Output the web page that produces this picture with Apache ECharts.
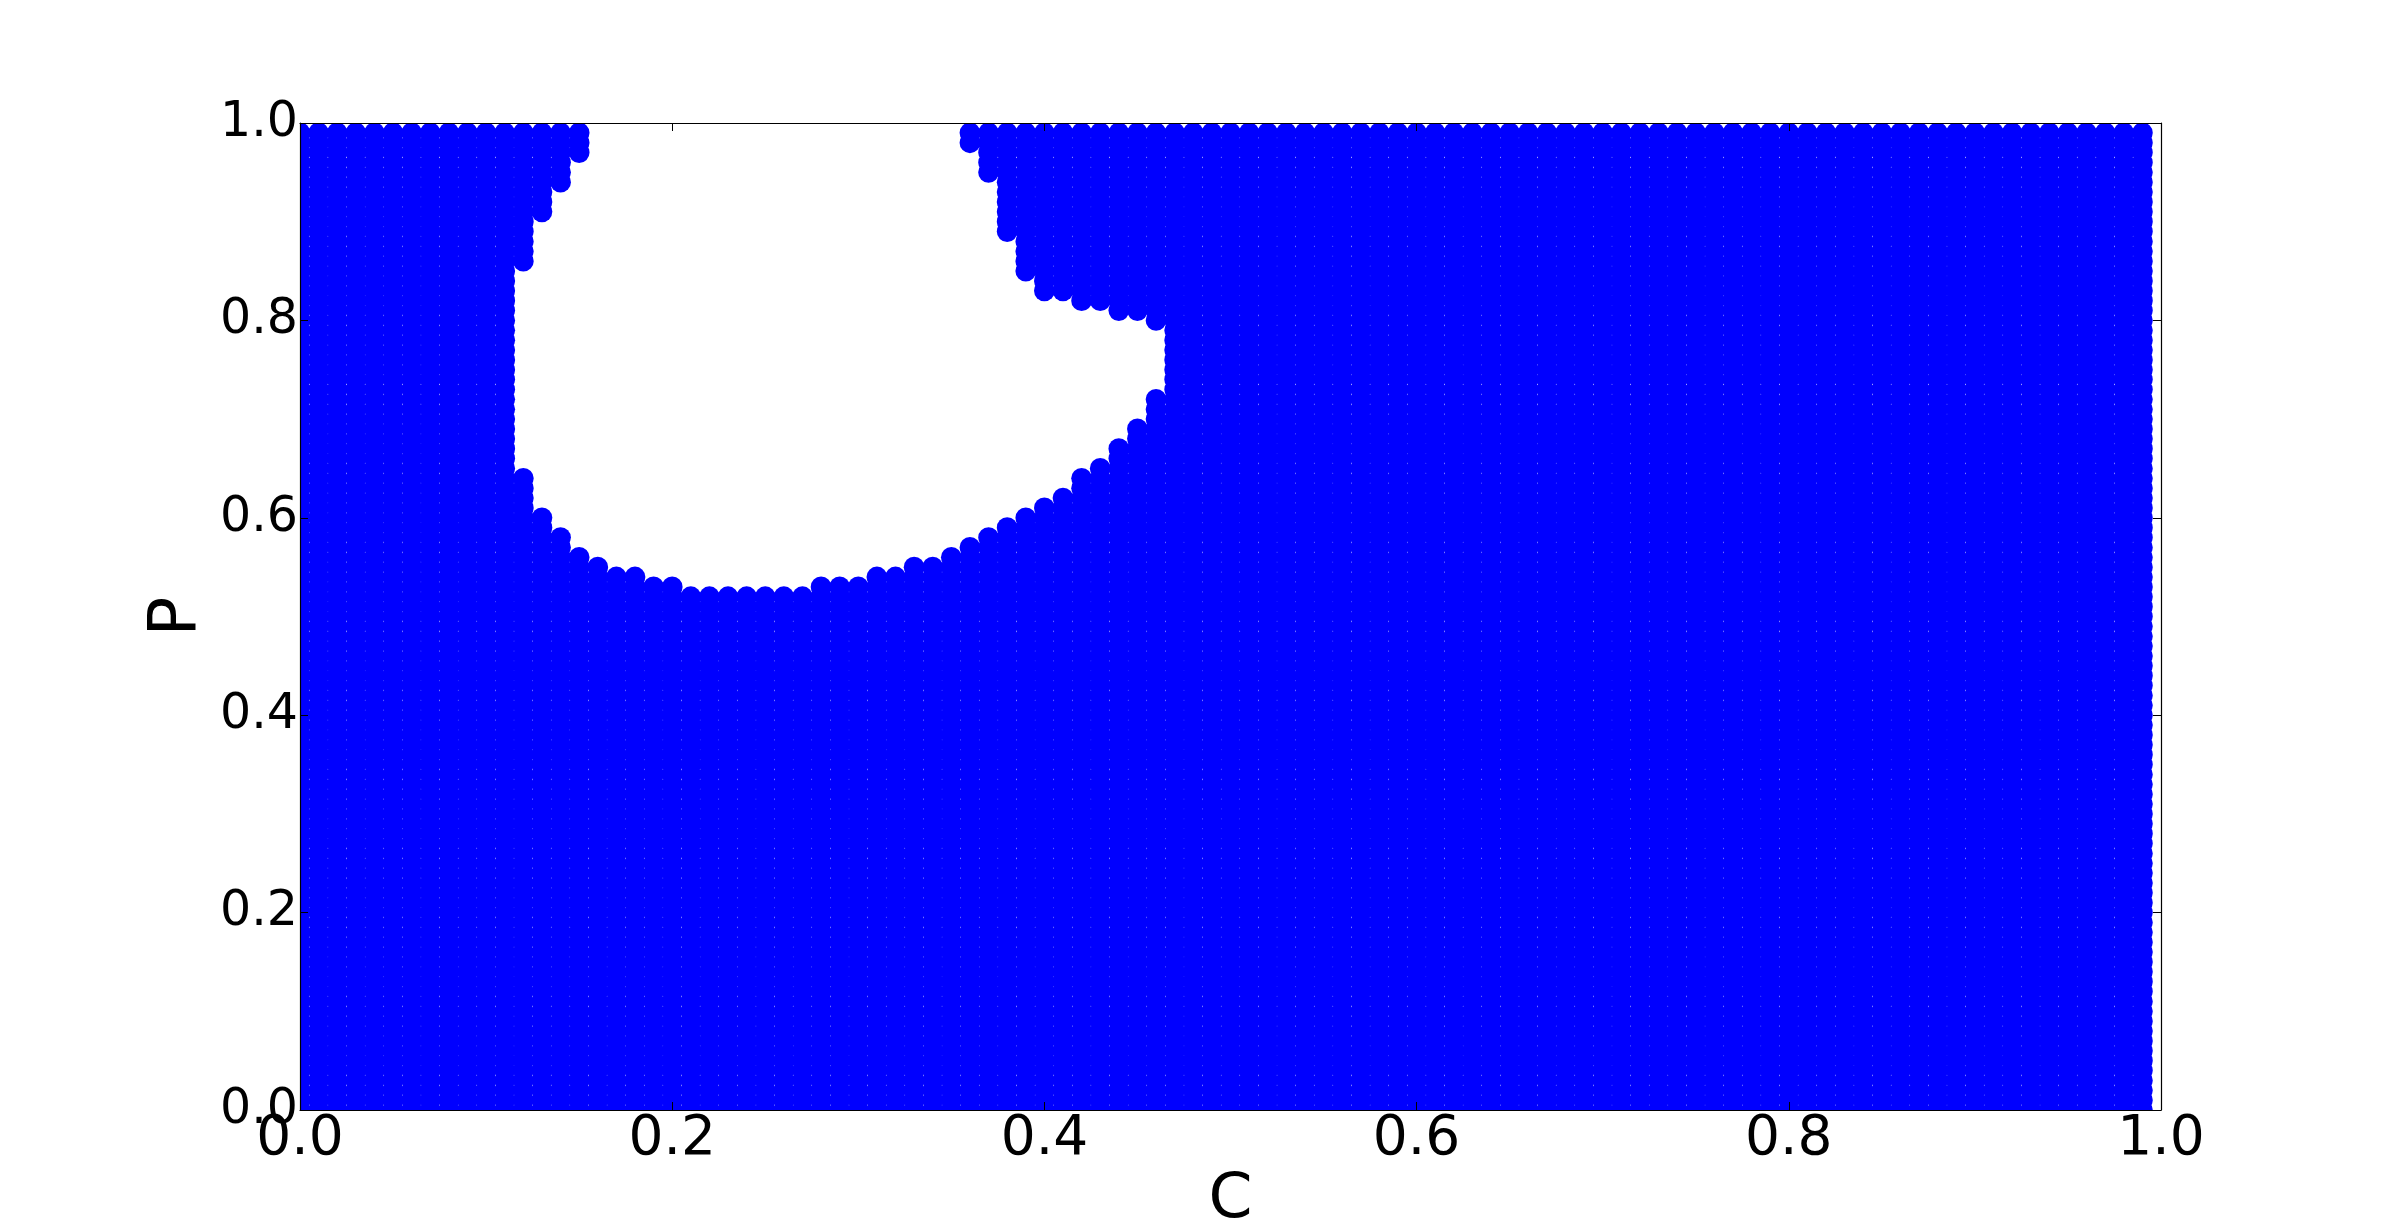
<!DOCTYPE html>
<html>
<head>
<meta charset="UTF-8">
<script type="text/javascript" src="https://cdn.jsdelivr.net/npm/echarts@6/dist/echarts.min.js"></script>
<title>C / P</title>
<style>
  html, body { margin: 0; padding: 0; background: #fff; }
  #graph { width: 2400px; height: 1232px; }
</style>
</head>
<body>
<div id="graph"></div>
<script>
// sampling lattice: C and P both run 0.00 ... 0.99 in steps of 0.01
var latticeStep = 0.01;
var latticeCount = 100;

// columns that have a gap, with the top of the lower block
// and the bottom of the upper block (null = no upper block)
var holeC = [0.12, 0.13, 0.14, 0.15, 0.16, 0.17, 0.18, 0.19, 0.20, 0.21,
             0.22, 0.23, 0.24, 0.25, 0.26, 0.27, 0.28, 0.29, 0.30, 0.31,
             0.32, 0.33, 0.34, 0.35, 0.36, 0.37, 0.38, 0.39, 0.40, 0.41,
             0.42, 0.43, 0.44, 0.45, 0.46];
var lowerTop = [0.64, 0.60, 0.58, 0.56, 0.55, 0.54, 0.54, 0.53, 0.53, 0.52,
                0.52, 0.52, 0.52, 0.52, 0.52, 0.52, 0.53, 0.53, 0.53, 0.54,
                0.54, 0.55, 0.55, 0.56, 0.57, 0.58, 0.59, 0.60, 0.61, 0.62,
                0.64, 0.65, 0.67, 0.69, 0.72];
var upperBottom = [0.86, 0.91, 0.94, 0.97, null, null, null, null, null, null,
                   null, null, null, null, null, null, null, null, null, null,
                   null, null, null, null, 0.98, 0.95, 0.89, 0.85, 0.83, 0.83,
                   0.82, 0.82, 0.81, 0.81, 0.80];

var ticks = [0, 0.2, 0.4, 0.6, 0.8, 1.0];

var points = [];
for (var i = 0; i < latticeCount; i++) {
  var k = -1;
  for (var h = 0; h < holeC.length; h++) {
    if (Math.round(holeC[h] * 100) === i) { k = h; }
  }
  for (var j = 0; j < latticeCount; j++) {
    if (k >= 0) {
      var lo = Math.round(lowerTop[k] * 100);
      var up = upperBottom[k] === null ? 1000 : Math.round(upperBottom[k] * 100);
      if (j > lo && j < up) continue;
    }
    points.push([+(i * latticeStep).toFixed(2), +(j * latticeStep).toFixed(2)]);
  }
}

var font = 'DejaVu Sans';
function fmt(v) { return v.toFixed(1); }

function axisBase(extra) {
  var a = {
    type: 'value',
    min: ticks[0],
    max: ticks[ticks.length - 1],
    interval: 0.2,
    z: 5,
    nameMoveOverlap: false,
    splitLine: { show: false },
    axisLine: { show: true, onZero: false, lineStyle: { color: '#000', width: 1.2 } },
    axisTick: { show: true, inside: true, length: 8, lineStyle: { color: '#000', width: 1 } },
    axisLabel: { show: false }
  };
  for (var key in extra) a[key] = extra[key];
  return a;
}

var myChart = echarts.init(document.getElementById('graph'));
var option = {
  animation: false,
  backgroundColor: '#fff',
  grid: { left: 300, right: 239, top: 123, bottom: 122, outerBoundsMode: 'none' },
  xAxis: [
    axisBase({
      position: 'bottom',
      name: 'C',
      nameLocation: 'middle',
      nameGap: 59,
      nameTextStyle: { fontSize: 63, color: '#000', fontFamily: font },
      axisLabel: { show: true, fontSize: 55, color: '#000', fontFamily: font, margin: 2, formatter: fmt }
    }),
    axisBase({ position: 'top' })
  ],
  yAxis: [
    axisBase({
      position: 'left',
      name: 'P',
      nameLocation: 'middle',
      nameGap: 89,
      nameTextStyle: { fontSize: 66, color: '#000', fontFamily: font },
      axisLabel: { show: true, fontSize: 49, color: '#000', fontFamily: font, margin: 2, formatter: fmt }
    }),
    axisBase({ position: 'right' })
  ],
  series: [{
    type: 'custom',
    coordinateSystem: 'cartesian2d',
    xAxisIndex: 0,
    yAxisIndex: 0,
    clip: true,
    progressive: 0,
    z: 2,
    encode: { x: 0, y: 1 },
    data: points,
    renderItem: function (params, api) {
      var pt = api.coord([api.value(0), api.value(1)]);
      return {
        type: 'circle',
        shape: { cx: pt[0], cy: pt[1], r: 10.4 },
        style: { fill: '#0000ff' }
      };
    }
  }]
};
myChart.setOption(option);
</script>
</body>
</html>
